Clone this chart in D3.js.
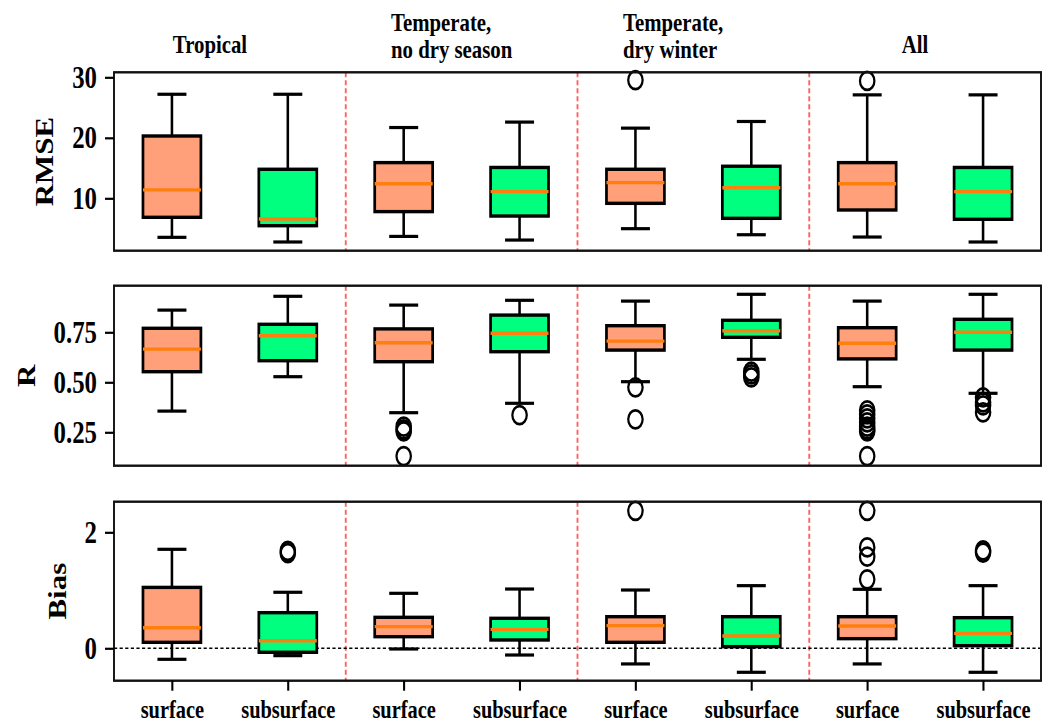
<!DOCTYPE html>
<html>
<head>
<meta charset="utf-8">
<script src="https://cdn.jsdelivr.net/npm/d3@7"></script>
<style>
html,body{margin:0;padding:0;background:#fff;}
svg text{font-family:"Liberation Serif","Times New Roman",serif;font-weight:bold;fill:#000;}
</style>
</head>
<body>
<svg id="chart" width="1049" height="724"></svg>
<script>
// ---------- data ----------
const regions = [["Tropical"], ["Temperate,", "no dry season"], ["Temperate,", "dry winter"], ["All"]];
const layers = ["surface", "subsurface"];
const layerColors = ["#FFA07A", "#00FF7F"];

// [lowerWhisker, Q1, median, Q3, upperWhisker] for the 8 boxes
const rmseStats = [
  [3.55, 6.86, 11.4, 20.3, 27.2],
  [2.78, 5.47, 6.58, 14.8, 27.2],
  [3.7, 7.8, 12.4, 15.9, 21.7],
  [3.1, 7.07, 11.1, 15.1, 22.6],
  [4.98, 9.17, 12.6, 14.8, 21.6],
  [3.98, 6.69, 11.75, 15.3, 22.7],
  [3.6, 8.07, 12.4, 15.9, 27.1],
  [2.78, 6.53, 11.1, 15.1, 27.1]
];
const rmseOutliers = [[], [], [], [], [29.55], [], [29.4], []];

const rStats = [
  [0.356, 0.553, 0.666, 0.77, 0.861],
  [0.528, 0.608, 0.733, 0.79, 0.93],
  [0.348, 0.603, 0.698, 0.767, 0.886],
  [0.395, 0.653, 0.745, 0.836, 0.91],
  [0.503, 0.661, 0.706, 0.783, 0.906],
  [0.615, 0.725, 0.758, 0.81, 0.94],
  [0.478, 0.617, 0.695, 0.773, 0.906],
  [0.445, 0.661, 0.75, 0.815, 0.94]
];
const rOutliers = [
  [], [], [0.278, 0.265, 0.255, 0.131], [0.336],
  [0.475, 0.315], [0.553, 0.54, 0.525],
  [0.36, 0.34, 0.32, 0.30, 0.278, 0.265, 0.255, 0.131],
  [0.425, 0.40, 0.385, 0.35]
];

const biasStats = [
  [-0.19, 0.103, 0.355, 1.05, 1.707],
  [-0.127, -0.069, 0.131, 0.614, 0.966],
  [-0.012, 0.2, 0.373, 0.534, 0.948],
  [-0.116, 0.143, 0.327, 0.517, 1.022],
  [-0.27, 0.103, 0.39, 0.545, 1.005],
  [-0.414, 0.028, 0.212, 0.545, 1.08],
  [-0.27, 0.166, 0.384, 0.545, 1.017],
  [-0.414, 0.045, 0.258, 0.528, 1.08]
];
const biasOutliers = [[], [1.64, 1.68], [], [], [2.37], [], [2.37, 1.74, 1.58, 1.19], [1.65, 1.69]];

const rmseTicks = [10, 20, 30];
const rTicks = [0.25, 0.5, 0.75];
const biasTicks = [0, 2];
const rmseDomain = [1.34, 30.83];
const rDomain = [0.083, 0.983];
const biasDomain = [-0.559, 2.528];

// ---------- layout ----------
const SX = 0.8; // horizontal squeeze of the whole figure
const svg = d3.select("#chart");
const root = svg.append("g").attr("transform", `scale(${SX},1)`);
const X = v => v / SX; // screen x -> internal x

const x = d3.scaleLinear().domain([0.5, 8.5]).range([X(114), X(1041)]);

const panels = [
  {label: "RMSE", stats: rmseStats, outl: rmseOutliers, ticks: rmseTicks, domain: rmseDomain,
   top: 72.3, bottom: 250.7, fmt: d3.format("d"), labelX: 45},
  {label: "R", stats: rStats, outl: rOutliers, ticks: rTicks, domain: rDomain,
   top: 285.7, bottom: 465.7, fmt: d3.format(".2f"), labelX: 27},
  {label: "Bias", stats: biasStats, outl: biasOutliers, ticks: biasTicks, domain: biasDomain,
   top: 501.7, bottom: 680.7, fmt: d3.format("d"), labelX: 58, zero: true, xlabels: true}
];

panels.forEach(p => {
  const y = d3.scaleLinear().domain(p.domain).range([p.bottom, p.top]);
  const g = root.append("g");

  // dashed region separators
  [2.5, 4.5, 6.5].forEach(v => {
    g.append("line").attr("x1", x(v)).attr("x2", x(v)).attr("y1", p.top).attr("y2", p.bottom)
      .attr("stroke", "#ff4d4d").attr("stroke-opacity", 0.9).attr("stroke-width", 2.3)
      .attr("stroke-dasharray", "5,3");
  });
  if (p.zero) {
    g.append("line").attr("x1", x(0.5)).attr("x2", x(8.5)).attr("y1", y(0)).attr("y2", y(0))
      .attr("stroke", "#000").attr("stroke-width", 1.4).attr("stroke-dasharray", "4,3");
  }

  p.stats.forEach((s, i) => {
    const cx = x(i + 1);
    const hw = x(i + 1.25) - cx;
    const cw = x(i + 1.125) - cx;
    const [lo, q1, med, q3, hi] = s;
    // whiskers
    g.append("line").attr("x1", cx).attr("x2", cx).attr("y1", y(q3)).attr("y2", y(hi))
      .attr("stroke", "#000").attr("stroke-width", 3.2);
    g.append("line").attr("x1", cx).attr("x2", cx).attr("y1", y(q1)).attr("y2", y(lo))
      .attr("stroke", "#000").attr("stroke-width", 3.2);
    // caps
    [lo, hi].forEach(v => {
      g.append("line").attr("x1", cx - cw).attr("x2", cx + cw).attr("y1", y(v)).attr("y2", y(v))
        .attr("stroke", "#000").attr("stroke-width", 3.2);
    });
    // box
    g.append("rect").attr("x", cx - hw).attr("width", 2 * hw)
      .attr("y", y(q3)).attr("height", y(q1) - y(q3))
      .attr("fill", layerColors[i % 2]).attr("stroke", "#000").attr("stroke-width", 3.4);
    // median
    g.append("line").attr("x1", cx - hw).attr("x2", cx + hw).attr("y1", y(med)).attr("y2", y(med))
      .attr("stroke", "#ff7f0e").attr("stroke-width", 3.4);
    // outliers
    p.outl[i].forEach(v => {
      g.append("circle").attr("cx", cx).attr("cy", y(v)).attr("r", 9)
        .attr("fill", "none").attr("stroke", "#000").attr("stroke-width", 2.8);
    });
  });

  // frame
  g.append("rect").attr("x", x(0.5)).attr("y", p.top).attr("width", x(8.5) - x(0.5))
    .attr("height", p.bottom - p.top).attr("fill", "none").attr("stroke", "#111").attr("stroke-width", 2.4);

  // y axis
  const yAxis = d3.axisLeft(y).tickValues(p.ticks).tickFormat(p.fmt).tickSize(X(9)).tickPadding(X(8));
  const ax = g.append("g").attr("transform", `translate(${x(0.5)},0)`).call(yAxis);
  ax.select(".domain").remove();
  ax.selectAll(".tick line").attr("stroke", "#000").attr("stroke-width", 2.2);
  ax.selectAll(".tick text").attr("font-size", 31).attr("fill", "#000")
    .style("font-family", '"Liberation Serif", serif').style("font-weight", "bold");

  // y label
  g.append("text")
    .attr("transform", `translate(${X(p.labelX)},${(p.top + p.bottom) / 2}) rotate(-90)`)
    .attr("text-anchor", "middle").attr("dy", "0.34em").attr("font-size", 31).text(p.label);

  if (p.xlabels) {
    const xAxis = d3.axisBottom(x).tickValues(d3.range(1, 9))
      .tickFormat(d => layers[(d - 1) % 2]).tickSize(10).tickPadding(9);
    const xa = g.append("g").attr("transform", `translate(0,${p.bottom})`).call(xAxis);
    xa.select(".domain").remove();
    xa.selectAll(".tick line").attr("stroke", "#000").attr("stroke-width", 2.6);
    xa.selectAll(".tick text").attr("font-size", 25.5).attr("fill", "#000")
      .style("font-family", '"Liberation Serif", serif').style("font-weight", "bold");
  }
});

// region titles
const titleSpecs = [
  {anchor: "middle", x: 210, ys: [53]},
  {anchor: "start", x: 391, ys: [31, 58]},
  {anchor: "start", x: 623, ys: [31, 58]},
  {anchor: "middle", x: 915, ys: [53]}
];
regions.forEach((lines, i) => {
  const t = titleSpecs[i];
  const txt = root.append("text").attr("font-size", 26).attr("text-anchor", t.anchor);
  lines.forEach((ln, j) => {
    txt.append("tspan").attr("x", X(t.x)).attr("y", t.ys[j]).text(ln);
  });
});
</script>
</body>
</html>
